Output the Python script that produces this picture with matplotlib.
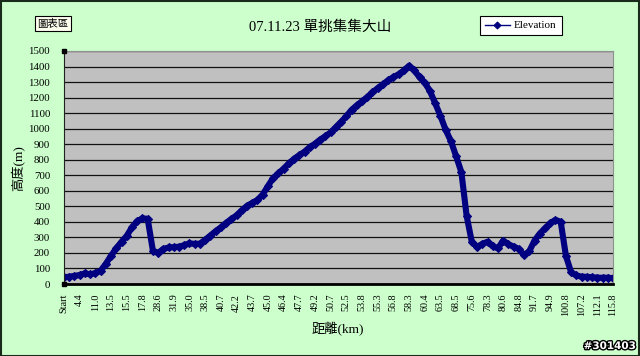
import matplotlib
matplotlib.use("Agg")
import matplotlib.pyplot as plt
import matplotlib.patheffects as pe
from matplotlib.patches import Rectangle

# ---- data ----
elevation = [
    43, 47, 52, 58, 69, 62, 70, 85, 130, 182,
    230, 272, 310, 365, 405, 422, 420, 215, 200, 226,
    235, 237, 240, 250, 262, 258, 260, 285, 312, 340,
    364, 393, 418, 442, 474, 503, 522, 541, 576, 630,
    682, 712, 743, 776, 806, 829, 852, 881, 903, 930,
    951, 976, 1010, 1044, 1080, 1121, 1150, 1176, 1203, 1233,
    1261, 1286, 1311, 1332, 1350, 1375, 1405, 1375, 1331, 1297,
    1241, 1163, 1082, 992, 920, 822, 720, 440, 270, 240,
    258, 272, 243, 230, 280, 255, 241, 225, 185, 212,
    280, 325, 359, 392, 413, 400, 180, 75, 55, 47,
    46, 43, 41, 40, 41, 37,
]
tick_labels = ["Start", "4.4", "11.0", "13.5", "15.5", "17.8", "28.6", "31.9",
               "35.0", "38.5", "40.7", "42.2", "43.7", "45.0", "46.4", "47.7",
               "49.2", "50.7", "52.5", "53.8", "55.3", "56.8", "58.3", "60.4",
               "63.5", "68.5", "75.6", "78.3", "80.6", "84.8", "91.7", "94.9",
               "100.8", "107.2", "112.1", "115.8"]
points_per_label = 3
title = "07.11.23 單挑集集大山"
xlabel = "距離(km)"
ylabel = "高度(m)"
series_name = "Elevation"

FAM = ["Liberation Serif", "Noto Sans CJK TC", "DejaVu Sans"]
plt.rcParams["font.family"] = FAM

fig = plt.figure(figsize=(6.4, 3.56), dpi=100, facecolor="#CCFFCC")
ax = fig.add_axes([64/640, 1-284/356, (613-64)/640, (284-51)/356])
ax.set_facecolor("#C0C0C0")

xs = list(range(len(elevation)))
ax.plot(xs, elevation, color="#000080", lw=4.4, marker="D", markersize=4,
        markeredgewidth=0.8, label=series_name, solid_joinstyle="round")

ax.set_xlim(0, len(elevation) - 1)
ax.set_ylim(0, 1500)
ax.set_yticks(range(0, 1501, 100))
ax.set_yticklabels([str(v) for v in range(0, 1501, 100)], fontsize=7.8)
ax.set_xticks(range(0, len(elevation), points_per_label))
ax.set_xticklabels(tick_labels, rotation=90, fontsize=7.3)
ax.tick_params(axis="y", length=0, pad=10)
ax.tick_params(axis="x", length=0, pad=7)
ax.yaxis.grid(True, color="#111111", lw=0.9)
ax.set_axisbelow(True)
for s in ["top", "right"]:
    ax.spines[s].set_color("#909090")
    ax.spines[s].set_linewidth(0.8)
ax.spines["left"].set_color("#202020")
ax.spines["left"].set_linewidth(0.8)
ax.spines["bottom"].set_color("black")
ax.spines["bottom"].set_linewidth(2)

fig.text(320/640, 1-27/356, title, ha="center", va="center", fontsize=10.5)
fig.text(338/640, 1-329/356, xlabel, ha="center", va="center", fontsize=9.5)
fig.text(18/640, 1-168/356, ylabel, ha="center", va="center", fontsize=9.5,
         rotation=90)

leg = ax.legend(loc="center", bbox_to_anchor=(521/640, 1-25.5/356),
                bbox_transform=fig.transFigure, fontsize=8, frameon=True,
                fancybox=False, edgecolor="black", facecolor="white",
                framealpha=1, handlelength=2.2, handletextpad=0.4,
                borderpad=0.45)
leg.get_frame().set_linewidth(0.8)
for h in leg.legend_handles:
    h.set_linewidth(1.0)
    h.set_markersize(3.5)

# chart-area tag
fig.text(53/640, 1-23.5/356, "圖表區", ha="center", va="center", fontsize=7.5,
         bbox=dict(boxstyle="square,pad=0.25", facecolor="#FFFFF0",
                   edgecolor="black", linewidth=0.8))

# selection handles
for (hx, hy) in [(64, 51), (64, 284)]:
    fig.patches.append(Rectangle(((hx-2)/640, 1-(hy+2)/356), 4/640, 4/356,
                                 transform=fig.transFigure, facecolor="black",
                                 edgecolor="black"))

# outer border
fig.patches.append(Rectangle((0.5/640, 0.5/356), 638.5/640, 354.5/356,
                             transform=fig.transFigure, fill=False,
                             edgecolor="#1a2a1a", linewidth=1.5))

# watermark
fig.text(636/640, 1-346/356, "#301403", ha="right", va="center",
         fontsize=7.5, fontweight="bold", color="white", family="DejaVu Sans",
         path_effects=[pe.withStroke(linewidth=2, foreground="black")])

fig.savefig("out.png", dpi=100, facecolor=fig.get_facecolor())
